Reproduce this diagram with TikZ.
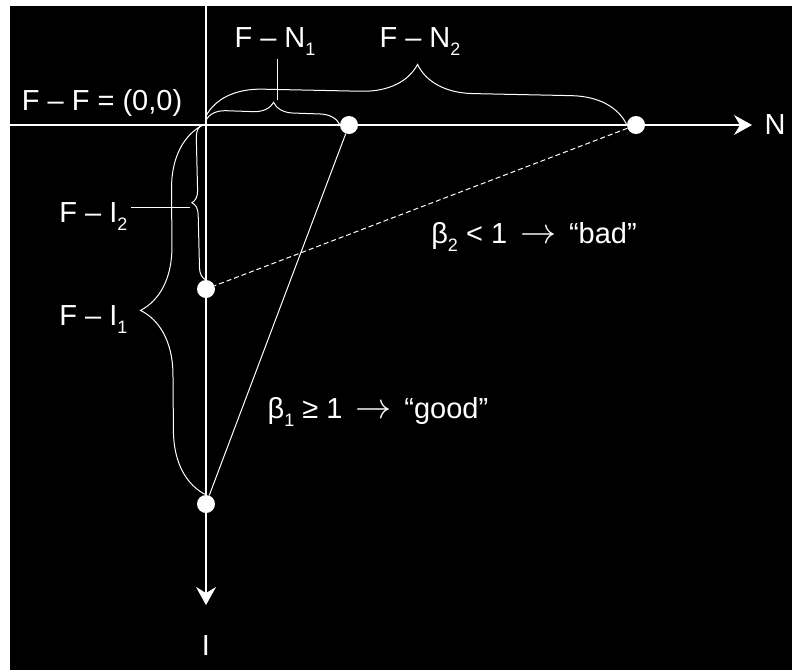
\documentclass[tikz,border=0pt]{standalone}
\usepackage{fontspec}
\setmainfont{Liberation Sans}
\usetikzlibrary{arrows.meta, decorations.pathreplacing, calc}

\newcommand{\sub}[1]{\raisebox{-8pt}{\fontsize{18}{18}\selectfont #1}}
\newcommand{\arr}{\,\scalebox{1.45}{$\rightarrow$}\,}

\begin{document}
\begin{tikzpicture}[
    x=1pt, y=-1pt,
    every node/.style={text=white, font=\fontsize{29}{32}\selectfont},
    dot/.style={circle, fill=white, inner sep=0pt, minimum size=18pt},
    axis/.style={draw=white, line width=1.2pt, -{Stealth[length=18pt, width=20pt, inset=6pt]}},
    guide/.style={draw=white, line width=1pt},
    bracket/.style={draw=white, line width=1pt, decorate, decoration={brace, amplitude=#1}}
]
\useasboundingbox (0,0) rectangle (792,670);
% Background
\fill[white] (0,0) rectangle (792,670);
\fill[black] (10,6) rectangle (792,670);

% Axes
\coordinate (O) at (206,125);
\coordinate (Lleft) at (10,125);
\coordinate (Ltop) at (206,6);
\coordinate (Nend) at (752,125);
\coordinate (Iend) at (206,605);
\draw[axis] (Lleft) -- (Nend);
\draw[axis] (Ltop) -- (Iend);

% Points
\node[dot] (N1) at (349,125) {};
\node[dot] (N2) at (636,125) {};
\node[dot] (I2) at (206,289) {};
\node[dot] (I1) at (206,504) {};

% Lines between points
\draw[guide] (N1) -- (I1);
\draw[guide, dash pattern=on 5pt off 3pt] (N2) -- (I2);

% Braces
\draw[bracket=20pt] ([yshift=5pt]O) -- ([yshift=5pt]N1);
\draw[bracket=56pt] ([yshift=9pt]O) -- ([yshift=9pt]N2);
\draw[bracket=12pt, decoration={mirror}] ([xshift=-4pt]O) -- ([xshift=-4pt]I2);
\draw[bracket=64pt, decoration={mirror}] ([xshift=-3pt]O) -- ([xshift=-3pt]I1);
\coordinate (cN1) at (277.5,100);
\coordinate (cI2) at (190,207);

% Labels
\node[anchor=base] (lFF) at (102,110) {F – F = (0,0)};
\node[anchor=base] (lN1) at (275,47) {F – N\sub{1}};
\node[anchor=base] (lN2) at (420,47) {F – N\sub{2}};
\node[anchor=base east] (lI2) at (131,222) {F – I\sub{2}};
\node[anchor=base east] (lI1) at (131,325) {F – I\sub{1}};
\node[anchor=base] (lbad) at (534,243) {β\sub{2} < 1 \arr{} “bad”};
\node[anchor=base] (lgood) at (378,418) {β\sub{1} ≥ 1 \arr{} “good”};
\node (lN) at (775,125) {N};
\node[anchor=base] (lI) at (206,655) {I};

% Leaders
\draw[guide] (cN1) -- (cN1 |- lN1.south);
\draw[guide] (lI2.east |- cI2) -- (cI2);

\end{tikzpicture}
\end{document}
